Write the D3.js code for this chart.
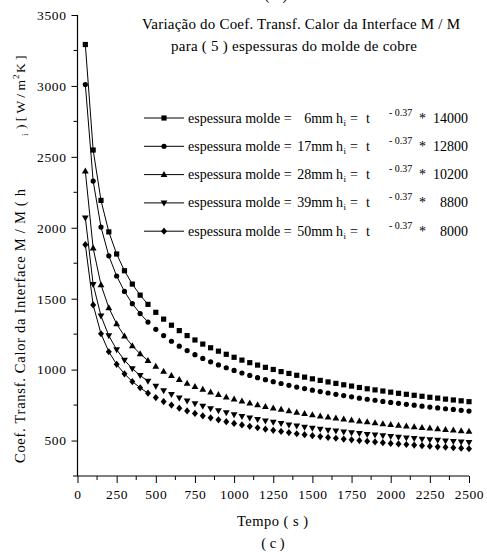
<!DOCTYPE html>
<html><head><meta charset="utf-8">
<script src="https://cdn.jsdelivr.net/npm/d3@7"></script>
<style>body{margin:0;background:#fff}svg{display:block}svg text{font-family:"Liberation Serif","Times New Roman",serif;fill:#000}</style>
</head><body>
<script>
const times = [50,100,150,200,250,300,350,400,450,500,550,600,650,700,750,800,850,900,950,1000,1050,1100,1150,1200,1250,1300,1350,1400,1450,1500,1550,1600,1650,1700,1750,1800,1850,1900,1950,2000,2050,2100,2150,2200,2250,2300,2350,2400,2450,2500];
const h6mm  = [3292,2548,2193,1971,1815,1697,1603,1525,1460,1404,1356,1313,1275,1240,1209,1180,1154,1130,1108,1087,1067,1049,1032,1016,1001,986,973,960,947,935,924,913,903,893,884,874,865,857,849,841,833,826,819,812,805,799,792,786,780,774];
const h17mm = [3010,2329,2005,1802,1660,1551,1465,1395,1335,1284,1240,1200,1165,1134,1105,1079,1055,1033,1013,994,976,959,943,929,915,902,889,877,866,855,845,835,826,817,808,799,791,784,776,769,762,755,749,742,736,730,724,719,713,708];
const h28mm = [2399,1856,1598,1436,1322,1236,1168,1111,1064,1023,988,957,929,903,881,860,841,823,807,792,778,764,752,740,729,719,709,699,690,681,673,665,658,651,644,637,631,624,618,613,607,602,596,591,587,582,577,573,568,564];
const h39mm = [2070,1601,1378,1239,1141,1066,1007,959,918,883,852,825,801,779,760,742,725,710,696,683,671,659,649,639,629,620,611,603,595,588,581,574,568,561,555,550,544,539,534,529,524,519,515,510,506,502,498,494,490,487];
const h50mm = [1881,1456,1253,1126,1037,970,916,872,834,803,775,750,728,709,691,674,660,646,633,621,610,600,590,580,572,564,556,548,541,534,528,522,516,510,505,500,495,490,485,480,476,472,468,464,460,456,453,449,446,442];
const thickness = ["6mm","17mm","28mm","39mm","50mm"];
const coefs = ["14000","12800","10200","8800","8000"];
const markers = ["square","circle","triangle","triangleDown","diamond"];
const xTicks = [0,250,500,750,1000,1250,1500,1750,2000,2250,2500];
const yTicks = [500,1000,1500,2000,2500,3000,3500];
const linedCount = 9; // points joined by line segments

const series = [h6mm,h17mm,h28mm,h39mm,h50mm];
const SERIF='"Liberation Serif","Times New Roman",serif';

const W=487,H=552;
const svg=d3.select("body").append("svg").attr("width",W).attr("height",H);
const x=d3.scaleLinear().domain([0,2500]).range([77.5,469]);
const y=d3.scaleLinear().domain([250,3500]).range([476,15]);

function markerPath(type){
  switch(type){
    case "square": return "M-2.6,-2.6h5.2v5.2h-5.2Z";
    case "circle": return "M2.6,0A2.6,2.6 0 1 1 -2.6,0A2.6,2.6 0 1 1 2.6,0Z";
    case "triangle": return "M0,-3.6L3.4,2.4L-3.4,2.4Z";
    case "triangleDown": return "M0,3.6L3.4,-2.4L-3.4,-2.4Z";
    case "diamond": return "M0,-3.6L3,0L0,3.6L-3,0Z";
  }
}

// axes
const xAxis=d3.axisBottom(x).tickValues(xTicks).tickSize(7).tickPadding(6).tickFormat(d3.format("d"));
const gx=svg.append("g").attr("transform","translate(0,476)").call(xAxis).style("font-family",SERIF);
gx.selectAll(".tick text").attr("font-size",13.5).style("font-family",SERIF).style("letter-spacing","0.6px");
const xMinor=d3.range(125,2500,250);
gx.selectAll(".minor").data(xMinor).enter().append("line").attr("x1",d=>x(d)).attr("x2",d=>x(d)).attr("y1",0).attr("y2",4).attr("stroke","#000");
gx.select(".domain").attr("d","M73,0H469");

const yAxis=d3.axisLeft(y).tickValues(yTicks).tickSize(6).tickPadding(5).tickFormat(d3.format("d"));
const gy=svg.append("g").attr("transform","translate(77.5,0)").call(yAxis).style("font-family",SERIF);
gy.selectAll(".tick text").attr("font-size",13.5).style("font-family",SERIF).style("letter-spacing","0.6px");
const yMinor=[750,1250,1750,2250,2750,3250];
gy.selectAll(".minor").data(yMinor).enter().append("line").attr("x1",-4).attr("x2",0).attr("y1",d=>y(d)).attr("y2",d=>y(d)).attr("stroke","#000");
gy.select(".domain").attr("d","M0,15V476");
svg.selectAll(".domain").attr("stroke","#000").attr("stroke-width",1.2);
svg.selectAll(".tick line").attr("stroke","#000");

// series
const line=d3.line().x(d=>x(d[0])).y(d=>y(d[1]));
series.forEach((vals,i)=>{
  const pts=times.map((t,j)=>[t,vals[j]]);
  svg.append("path").attr("d",line(pts.slice(0,linedCount))).attr("fill","none").attr("stroke","#000").attr("stroke-width",1);
  svg.append("g").selectAll("path").data(pts).enter().append("path")
    .attr("d",markerPath(markers[i])).attr("transform",d=>`translate(${x(d[0])},${y(d[1])})`).attr("fill","#000");
});

// legend
const legRowY=[118,146.3,174.6,202.9,231.2];
thickness.forEach((th,i)=>{
  const ry=legRowY[i];
  const g=svg.append("g");
  g.append("line").attr("x1",144).attr("x2",184).attr("y1",ry).attr("y2",ry).attr("stroke","#000");
  g.append("path").attr("d",markerPath(markers[i])).attr("transform",`translate(164,${ry})`);
  const fs=14, by=ry+4.5;
  g.append("text").attr("x",188).attr("y",by).attr("font-size",fs).text("espessura molde =");
  g.append("text").attr("x",333).attr("y",by).attr("font-size",fs).attr("text-anchor","end").text(th);
  g.append("text").attr("x",336).attr("y",by).attr("font-size",fs).text("h");
  g.append("text").attr("x",343.5).attr("y",by+3).attr("font-size",9).text("i");
  g.append("text").attr("x",350).attr("y",by).attr("font-size",fs).text("=");
  g.append("text").attr("x",366).attr("y",by).attr("font-size",fs).text("t");
  g.append("text").attr("x",389).attr("y",by-7).attr("font-size",10).text("- 0.37");
  g.append("text").attr("x",419).attr("y",by).attr("font-size",fs).text("*");
  g.append("text").attr("x",468).attr("y",by).attr("font-size",fs).attr("text-anchor","end").text(coefs[i]);
});

// titles
svg.append("text").attr("x",142).attr("y",29).attr("font-size",15).attr("textLength",318).text("Variação do Coef. Transf. Calor da Interface M / M");
svg.append("text").attr("x",171).attr("y",51).attr("font-size",15).attr("textLength",246).text("para ( 5 ) espessuras do molde de cobre");
svg.append("text").attr("x",276).attr("y",0).attr("font-size",14).attr("text-anchor","middle").text("( c )");

// axis labels
svg.append("text").attr("x",237).attr("y",526).attr("font-size",14.5).attr("textLength",71).text("Tempo ( s )");
svg.append("text").attr("x",273).attr("y",548).attr("font-size",14.5).attr("text-anchor","middle").text("( c )");

const yl=svg.append("g").attr("transform","translate(25,0) rotate(-90)");
yl.append("text").attr("x",-463).attr("y",0).attr("font-size",14.5).attr("textLength",274).text("Coef. Transf. Calor da Interface M / M ( h");
yl.append("text").attr("x",-136).attr("y",3).attr("font-size",9).text("i");
yl.append("text").attr("x",-129).attr("y",0).attr("font-size",13.5).text(") [ W / m");
yl.append("text").attr("x",-79).attr("y",-6).attr("font-size",9).text("2");
yl.append("text").attr("x",-73).attr("y",0).attr("font-size",13.5).text("K ]");
</script>
</body></html>
